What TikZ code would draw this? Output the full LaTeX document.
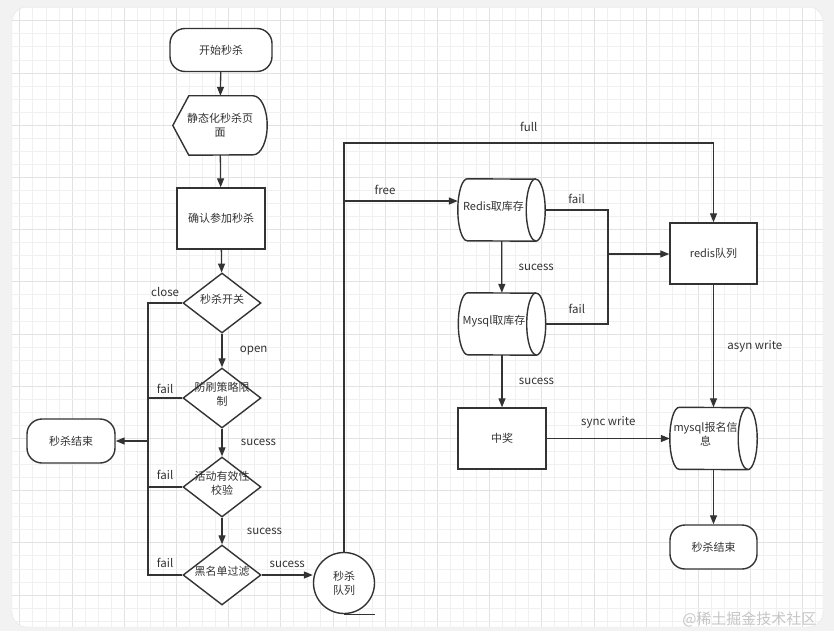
\documentclass[tikz,border=0pt]{standalone}
\usepackage{fontspec}
\setmainfont{Noto Sans CJK SC}
\usetikzlibrary{positioning, arrows.meta, shapes.geometric, calc}
\definecolor{lineg}{HTML}{333333}
\definecolor{gridminor}{HTML}{F0F0F0}
\definecolor{gridmajor}{HTML}{E2E2E2}
\definecolor{pagebg}{HTML}{F2F2F2}
\pgfdeclarelayer{grid}
\pgfdeclarelayer{outline}
\pgfsetlayers{grid,outline,main}
\newcommand{\gatetext}[1]{\smash{\makebox[0pt]{\begin{tabular}{@{}c@{}}#1\end{tabular}}}}
\newcommand{\storetext}[1]{\smash{\makebox[0pt]{\begin{tabular}{@{}c@{}}#1\end{tabular}\hspace{16pt}}}}
% horizontal drum round a node
\newcommand{\storeshape}[1]{%
  \begin{pgfonlayer}{outline}
    \draw[draw=lineg, line width=1.4pt, fill=white]
      ($(#1.north west)+(9.5,0)$) arc[start angle=90, end angle=270, x radius=9.5pt, y radius=31pt]
      -- ($(#1.south east)+(-9.5,0)$) arc[start angle=270, end angle=450, x radius=9.5pt, y radius=31pt]
      -- cycle;
    \draw[draw=lineg, line width=1.4pt]
      ($(#1.north east)+(-9.5,0)$) arc[start angle=90, end angle=270, x radius=9.5pt, y radius=31pt];
  \end{pgfonlayer}}

\begin{document}
\begin{tikzpicture}[
      x=1pt, y=-1pt,
      every node/.style={font=\fontsize{11}{14}\selectfont, text=lineg},
      term/.style={draw=lineg, line width=1.4pt, fill=white, rounded corners=15pt, minimum width=88pt, minimum height=44pt, align=center},
      proc/.style={draw=lineg, line width=1.4pt, fill=white, minimum width=88pt, minimum height=61pt, align=center},
      gate/.style={draw=lineg, line width=1.4pt, fill=white, diamond, minimum width=78pt, minimum height=60pt, inner sep=0pt},
      store/.style={minimum width=87pt, minimum height=62pt, inner sep=0pt},
      lbl/.style={font=\fontsize{11.5}{13}\selectfont},
      flow/.style={draw=lineg, line width=1.3pt, -{Triangle[length=9pt, width=7pt]}},
      wire/.style={draw=lineg, line width=1.3pt},
    ]
    \useasboundingbox (0,0) rectangle (834,631);
    % page and grid
    \begin{pgfonlayer}{grid}
      \fill[pagebg] (0,0) rectangle (834,631);
      \fill[white, draw=gray!20, rounded corners=15pt] (12,7) rectangle (823,627);
      \begin{scope}
        \clip[rounded corners=15pt] (12,7) rectangle (823,627);
        \foreach \k in {0,...,61} {
          \pgfmathtruncatemacro{\m}{mod(\k,4)}
          \ifnum\m=0 \def\gc{gridmajor}\else\def\gc{gridminor}\fi
          \draw[\gc, line width=0.8pt] ({19.8+13.05*\k},7) -- ({19.8+13.05*\k},627);
        }
        \foreach \k in {-1,...,46} {
          \pgfmathtruncatemacro{\m}{mod(\k+4,4)}
          \ifnum\m=0 \def\gc{gridmajor}\else\def\gc{gridminor}\fi
          \draw[\gc, line width=0.8pt] (12,{20.8+13.05*\k}) -- (823,{20.8+13.05*\k});
        }
      \end{scope}
    \end{pgfonlayer}

    % left column
    \node[term, minimum width=102pt, minimum height=43pt] (start) at (221,50) {开始秒杀};
    \node[minimum width=94pt, minimum height=59pt, align=center] (page) at (220,125.5) {静态化秒杀页\\面};
    \begin{pgfonlayer}{outline}
      \draw[draw=lineg, line width=1.4pt, fill=white] (page.west) -- ($(page.north west)+(16,0)$)
        -- ($(page.north east)+(-14,0)$) arc[start angle=90, end angle=-90, x radius=14pt, y radius=29.5pt]
        -- ($(page.south west)+(16,0)$) -- cycle;
    \end{pgfonlayer}
    \node[proc] (confirm) at (221,218.5) {确认参加秒杀};
    \node[gate] (sw) at (222,303) {\gatetext{秒杀开关}};
    \node[gate] (anti) at (222,398) {\gatetext{防刷策略限\\制}};
    \node[gate] (valid) at (222,487) {\gatetext{活动有效性\\校验}};
    \node[gate] (black) at (222,575) {\gatetext{黑名单过滤}};
    \node[term] (endL) at (71,441) {秒杀结束};
    \node[circle, draw=lineg, line width=1.4pt, fill=white, minimum size=61pt, inner sep=0pt, align=center] (queue) at (344,583) {秒杀\\队列};
    \draw[wire, line width=1.4pt] (queue.south) -- ++(31,0);

    % right part
    \node[store] (redisStock) at (501.5,210) {\storetext{Redis取库存}};
    \storeshape{redisStock}
    \node[store] (mysqlStock) at (502,324) {\storetext{Mysql取库存}};
    \storeshape{mysqlStock}
    \node[proc] (win) at (502,438.5) {中奖};
    \node[proc, minimum width=87pt] (rq) at (713.5,253.5) {redis队列};
    \node[store] (msg) at (713.5,438.5) {\storetext{mysql报名信\\息}};
    \storeshape{msg}
    \node[term, minimum width=87pt] (endR) at (713.5,547) {秒杀结束};

    \node[anchor=east, text=gray!45, font=\fontsize{15}{16}\selectfont] (mark) at (820,619) {@稀土掘金技术社区};

    \coordinate (bus) at (148,441);
    \coordinate (fullTop) at (344,143);
    \coordinate (freeTap) at (344,201);
    \coordinate (merge) at (608,254);

    \draw[flow] (start) -- (page);
    \draw[flow] (page) -- (confirm);
    \draw[flow] (confirm) -- (sw);
    \draw[flow] (sw) -- node[lbl, right=14pt] {open} (anti);
    \draw[flow] (anti) -- node[lbl, right=15pt] {sucess} (valid);
    \draw[flow] (valid) -- node[lbl, right=21pt] {sucess} (black);

    \draw[flow] (sw.west) -- node[lbl, above=2pt] {close} (sw.west -| bus) -- (bus) -- (endL.east);
    \draw[wire] (anti.west) -- node[lbl, above=0pt] {fail} (anti.west -| bus);
    \draw[wire] (valid.west) -- node[lbl, above=3pt] {fail} (valid.west -| bus);
    \draw[wire] (black.west) -- node[lbl, above=3pt] {fail} (black.west -| bus) -- (bus);

    \draw[flow] (black.east) -- node[lbl, above=3pt] {sucess} (black.east -| queue.west);
    \draw[flow] (queue.north) -- (fullTop) -- node[lbl, above=7pt] {full} (fullTop -| rq.north) -- (rq.north);
    \draw[flow] (freeTap) -- node[lbl, pos=0.36, above=2pt] {free} (freeTap -| redisStock.west);

    \draw[wire] (redisStock.east) -- node[lbl, above=2pt] {fail} (redisStock.east -| merge) -- (merge);
    \draw[wire] (mysqlStock.east) -- node[lbl, above=6pt] {fail} (mysqlStock.east -| merge) -- (merge);
    \draw[flow] (merge) -- (merge -| rq.west);

    \draw[flow] (redisStock) -- node[lbl, right=13pt] {sucess} (mysqlStock);
    \draw[flow] (mysqlStock) -- node[lbl, right=13pt] {sucess} (win);
    \draw[flow] (win) -- node[lbl, above=6pt] {sync write} (msg);
    \draw[flow] (rq) -- node[lbl, right=10pt] {asyn write} (msg);
    \draw[flow] (msg) -- (endR);
  \end{tikzpicture}
\end{document}
